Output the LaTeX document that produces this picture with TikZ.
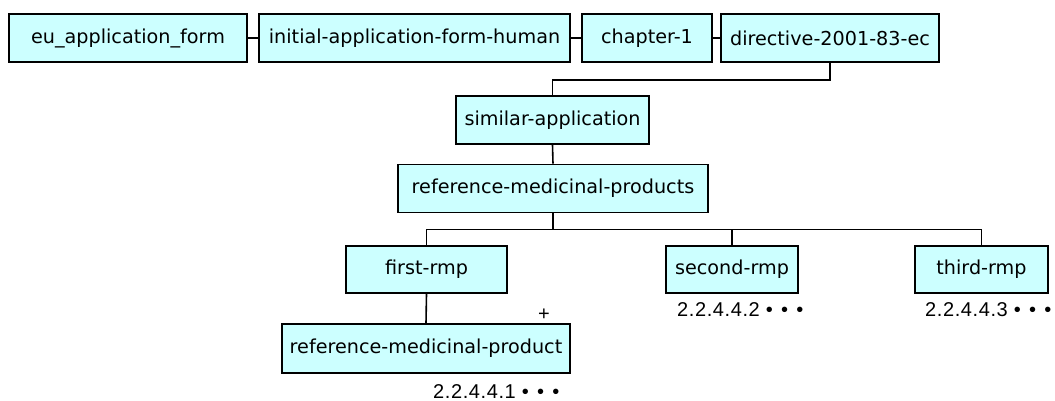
\documentclass[tikz,border=0pt]{standalone}
\usepackage{fontspec}
\setmainfont{DejaVu Sans}
\newfontfamily\numfont[LetterSpace=3]{Liberation Sans}
\usepackage{tikz}
\definecolor{elemfill}{HTML}{CCFFFF}
\newcommand{\moredots}{•\hspace{2pt} •\hspace{2pt} •}

\begin{document}
\begin{tikzpicture}[x=1pt,y=-1pt,
  elem/.style={draw=black,fill=elemfill,line width=1.6pt,minimum height=48pt,
    inner sep=0pt,font=\fontsize{19.2}{22}\selectfont},
  link/.style={line width=1.6pt},
  occurs/.style={anchor=base west,inner sep=0pt,font=\numfont\fontsize{20}{22}\selectfont}]
\useasboundingbox (0,0) rectangle (1055,401);
% breadcrumb row
\foreach \name/\x/\w/\txt in {form/128/238/eu\_application\_form,
    human/414.5/311/initial-application-form-human,
    chap/647/130/chapter-1,
    dir/830/218/directive-2001-83-ec}
  \node[elem,minimum width=\w pt] (\name) at (\x,38) {\txt};
\draw[link] (form.east) -- (human.west);
\draw[link] (human.east) -- (chap.west);
\draw[link] (chap.east) -- (dir.west);

% tree
\node[elem,minimum width=193pt] (sim) at (552.5,120) {similar-application};
\node[elem,minimum width=310pt] (rmps) at (553,188.5) {reference-medicinal-products};
\foreach \name/\x/\w/\txt in {first/426.5/161/first-rmp,
    second/732/132/second-rmp,
    third/981.5/133/third-rmp}
  \node[elem,minimum width=\w pt,minimum height=47pt] (\name) at (\x,269.5) {\txt};
\node[elem,minimum width=288pt,minimum height=49pt] (rmp) at (426,348.5) {reference-medicinal-product};

\draw[link] (dir.south) -- ++(0,17) -| (sim.north);
\draw[link] (sim.south) -- (rmps.north);
\foreach \c in {first,second,third}
  \draw[link] (rmps.south) -- ++(0,16) -| (\c.north);
\draw[link] (first.south) -- (rmp.north);

% cardinality and section numbers
\node[occurs] (plus) at (538,320) {+};
\node[occurs] (n1) at (433,398.5) {2.2.4.4.1 \moredots};
\node[occurs] (n2) at (677,316.5) {2.2.4.4.2 \moredots};
\node[occurs] (n3) at (925,316.5) {2.2.4.4.3 \moredots};
\end{tikzpicture}
\end{document}
